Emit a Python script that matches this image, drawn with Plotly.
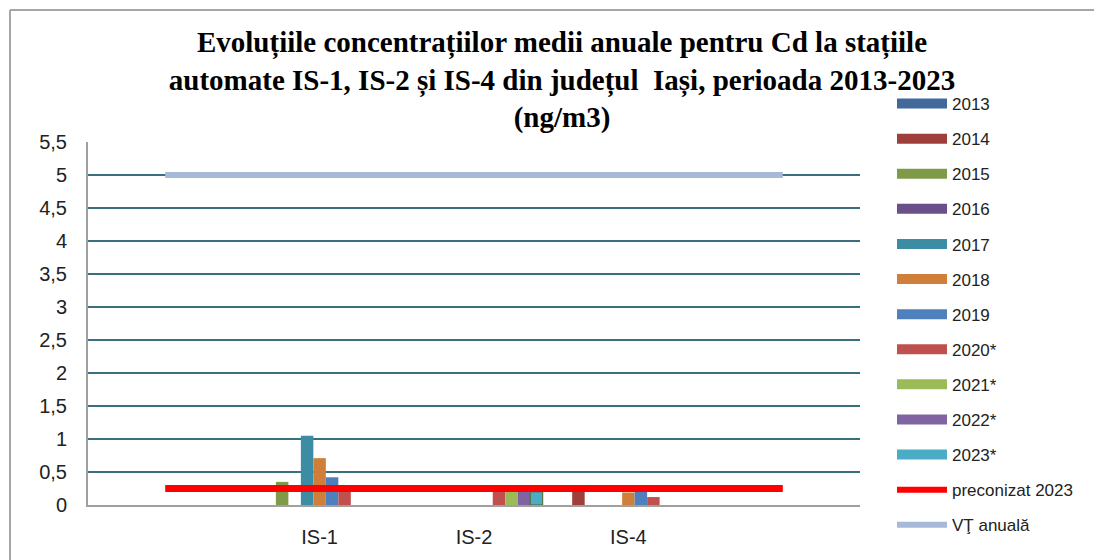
import plotly.graph_objects as go

# stations (blank slots at both ends, as in the original sheet)
stations = ["", "IS-1", "IS-2", "IS-4", ""]
years = ["2013", "2014", "2015", "2016", "2017", "2018", "2019",
         "2020*", "2021*", "2022*", "2023*"]

v2013 = [None, None, None, None, None]
v2014 = [None, None, None, 0.22, None]
v2015 = [None, 0.35, None, None, None]
v2016 = [None, None, None, None, None]
v2017 = [None, 1.05, None, None, None]
v2018 = [None, 0.71, None, 0.19, None]
v2019 = [None, 0.42, None, 0.20, None]
v2020 = [None, 0.25, 0.21, 0.12, None]
v2021 = [None, None, 0.20, None, None]
v2022 = [None, None, 0.20, None, None]
v2023 = [None, None, 0.20, None, None]

preconizat_2023 = [0.25, 0.25, 0.25, 0.25, 0.25]
vt_anuala = [5, 5, 5, 5, 5]

series = [v2013, v2014, v2015, v2016, v2017, v2018, v2019,
          v2020, v2021, v2022, v2023]
colors = ["#416a9b", "#9e3f3c", "#7f9a48", "#6a4f88", "#3c8da3", "#d07f3a",
          "#4d80bd", "#c0504d", "#9bbb59", "#8064a2", "#4bacc6"]

W, H = 1094, 552  # page adds an 8px body margin

xpos = list(range(len(stations)))
fig = go.Figure()

for yr, vals, col in zip(years, series, colors):
    edge = "#4f6228" if yr == "2023*" else col
    fig.add_trace(go.Bar(x=xpos, y=vals, name=yr, marker_color=col,
                         marker_line=dict(color=edge, width=1 if yr == "2023*" else 0),
                         showlegend=False))

fig.add_trace(go.Scatter(x=xpos, y=preconizat_2023, mode="lines",
                         line=dict(color="#ff0000", width=7), showlegend=False))
fig.add_trace(go.Scatter(x=xpos, y=vt_anuala, mode="lines",
                         line=dict(color="#a6b9d8", width=6), showlegend=False))

# legend entries drawn as wide swatches
for i, (yr, col) in enumerate(zip(years, colors)):
    fig.add_trace(go.Scatter(x=[None], y=[None], mode="lines", name=yr,
                             line=dict(color=col, width=11), legendgroup=str(i)))
fig.add_trace(go.Scatter(x=[None], y=[None], mode="lines", name="preconizat 2023",
                         line=dict(color="#ff0000", width=6), legendgroup="p"))
fig.add_trace(go.Scatter(x=[None], y=[None], mode="lines", name="VŢ anuală",
                         line=dict(color="#a6b9d8", width=6), legendgroup="v"))

fig.update_layout(
    width=W, height=H,
    margin=dict(l=80, r=242, t=134, b=55),
    paper_bgcolor="white", plot_bgcolor="white",
    barmode="group", bargap=0.11, bargroupgap=0,
    separators=", ",
    font=dict(family="Liberation Sans", color="#222222"),
    title=dict(
        text="<b>Evoluțiile concentrațiilor medii anuale pentru Cd la stațiile<br>"
             "automate IS-1, IS-2 și IS-4 din județul  Iași, perioada 2013-2023<br>(ng/m3)</b>",
        font=dict(family="Liberation Serif", size=29, color="#000000"),
        xref="container", x=554 / W, xanchor="center",
        yref="container", y=1 - 44 / H, yanchor="middle",
    ),
    legend=dict(
        x=884 / W, xref="container", xanchor="left",
        y=1 - 78 / H, yref="container", yanchor="top",
        font=dict(size=17, family="Liberation Sans", color="#222222"),
        itemwidth=50, tracegroupgap=10, bgcolor="rgba(0,0,0,0)",
        maxheight=480,
    ),
    shapes=[
        dict(type="line", xref="paper", yref="paper", x0=-78 / 772, x1=-78 / 772,
             y0=-0.5, y1=495 / 363, line=dict(color="#a6a6a6", width=2)),
        dict(type="line", xref="paper", yref="paper", x0=-78 / 772, x1=1.5,
             y0=495 / 363, y1=495 / 363, line=dict(color="#a6a6a6", width=2)),
    ],
)

fig.update_xaxes(
    range=[-0.5, len(stations) - 0.5], tickvals=xpos, ticktext=stations,
    showgrid=False, zeroline=False, showline=True, linecolor="#a0a0a0", linewidth=2,
    ticks="", tickfont=dict(size=20, family="Liberation Sans"), ticklabelstandoff=13,
)
fig.update_yaxes(
    range=[0, 5.5], dtick=0.5, showgrid=True, gridcolor="#3a6f7f", gridwidth=1.5,
    zeroline=False, showline=True, linecolor="#a0a0a0", linewidth=2,
    ticks="", tickfont=dict(size=20, family="Liberation Sans"), ticklabelstandoff=15,
)

fig.write_html("out.html")
